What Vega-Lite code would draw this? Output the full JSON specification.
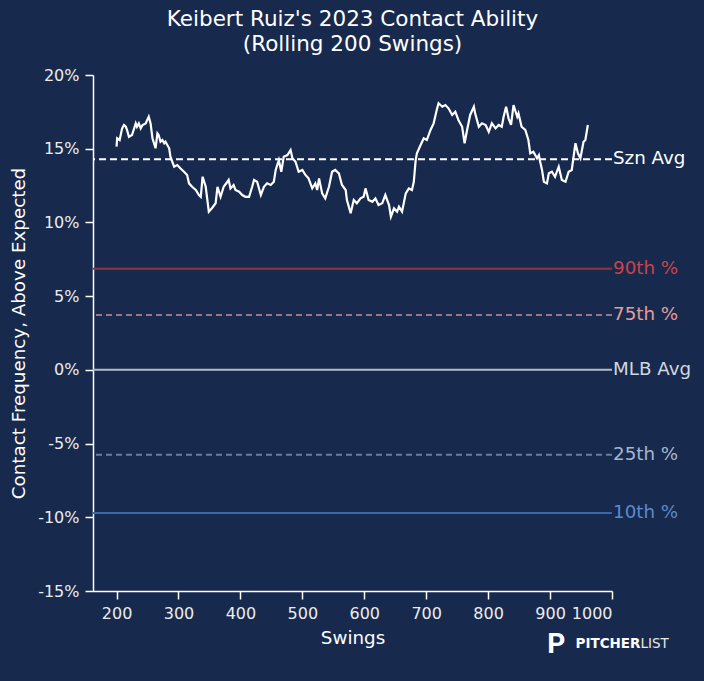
{
  "$schema": "https://vega.github.io/schema/vega-lite/v6.json",
  "width": 519,
  "height": 516,
  "autosize": {"type": "none"},
  "padding": {"left": 93, "top": 75, "right": 92, "bottom": 90},
  "background": "#172a4e",
  "title": {
    "text": ["Keibert Ruiz's 2023 Contact Ability", "(Rolling 200 Swings)"],
    "fontSize": 21.5,
    "fontWeight": "normal",
    "color": "#ffffff",
    "lineHeight": 25,
    "anchor": "middle",
    "offset": 12
  },
  "datasets": {
    "rolling": [
      {"swings": 200, "contact": 15.14}, {"swings": 201, "contact": 15.71}, {"swings": 205, "contact": 15.59},
      {"swings": 209, "contact": 16.38}, {"swings": 212, "contact": 16.61}, {"swings": 215, "contact": 16.49},
      {"swings": 217, "contact": 16.27}, {"swings": 220, "contact": 15.81}, {"swings": 225, "contact": 15.93},
      {"swings": 231, "contact": 16.72}, {"swings": 233, "contact": 16.49}, {"swings": 236, "contact": 16.72},
      {"swings": 239, "contact": 16.38}, {"swings": 242, "contact": 16.61}, {"swings": 247, "contact": 16.72},
      {"swings": 252, "contact": 17.17}, {"swings": 255, "contact": 16.72}, {"swings": 258, "contact": 15.71},
      {"swings": 263, "contact": 15.03}, {"swings": 266, "contact": 16.04}, {"swings": 268, "contact": 15.93},
      {"swings": 271, "contact": 15.47}, {"swings": 274, "contact": 15.59}, {"swings": 277, "contact": 15.37},
      {"swings": 279, "contact": 15.47}, {"swings": 285, "contact": 15.03}, {"swings": 287, "contact": 14.46},
      {"swings": 293, "contact": 13.78}, {"swings": 298, "contact": 13.89}, {"swings": 303, "contact": 13.67},
      {"swings": 309, "contact": 13.44}, {"swings": 314, "contact": 13.22}, {"swings": 317, "contact": 12.65},
      {"swings": 322, "contact": 12.42}, {"swings": 328, "contact": 12.2}, {"swings": 333, "contact": 11.86},
      {"swings": 336, "contact": 11.74}, {"swings": 339, "contact": 13.1}, {"swings": 344, "contact": 12.42},
      {"swings": 349, "contact": 10.73}, {"swings": 354, "contact": 10.96}, {"swings": 360, "contact": 11.3},
      {"swings": 363, "contact": 12.42}, {"swings": 368, "contact": 11.74}, {"swings": 373, "contact": 12.42},
      {"swings": 379, "contact": 12.76}, {"swings": 381, "contact": 12.88}, {"swings": 384, "contact": 12.31},
      {"swings": 389, "contact": 12.54}, {"swings": 392, "contact": 12.2}, {"swings": 398, "contact": 12.08},
      {"swings": 403, "contact": 11.86}, {"swings": 408, "contact": 11.74}, {"swings": 414, "contact": 11.74},
      {"swings": 419, "contact": 12.42}, {"swings": 422, "contact": 12.88}, {"swings": 427, "contact": 12.76},
      {"swings": 433, "contact": 11.86}, {"swings": 438, "contact": 12.42}, {"swings": 443, "contact": 12.65},
      {"swings": 449, "contact": 12.54}, {"swings": 454, "contact": 12.76}, {"swings": 457, "contact": 13.56},
      {"swings": 462, "contact": 14.23}, {"swings": 466, "contact": 13.44}, {"swings": 470, "contact": 14.46},
      {"swings": 476, "contact": 14.57}, {"swings": 481, "contact": 14.91}, {"swings": 484, "contact": 14.35},
      {"swings": 489, "contact": 14.12}, {"swings": 494, "contact": 13.44}, {"swings": 500, "contact": 13.56},
      {"swings": 505, "contact": 13.22}, {"swings": 510, "contact": 12.99}, {"swings": 516, "contact": 12.31},
      {"swings": 521, "contact": 12.65}, {"swings": 524, "contact": 12.2}, {"swings": 527, "contact": 12.99},
      {"swings": 532, "contact": 11.97}, {"swings": 537, "contact": 11.63}, {"swings": 543, "contact": 12.42},
      {"swings": 548, "contact": 13.44}, {"swings": 553, "contact": 13.56}, {"swings": 559, "contact": 13.33},
      {"swings": 564, "contact": 12.54}, {"swings": 570, "contact": 12.2}, {"swings": 572, "contact": 11.52},
      {"swings": 578, "contact": 10.62}, {"swings": 583, "contact": 11.52}, {"swings": 588, "contact": 11.3},
      {"swings": 594, "contact": 11.63}, {"swings": 599, "contact": 11.74}, {"swings": 602, "contact": 12.31},
      {"swings": 607, "contact": 11.52}, {"swings": 613, "contact": 11.4}, {"swings": 618, "contact": 11.63},
      {"swings": 623, "contact": 11.18}, {"swings": 629, "contact": 11.3}, {"swings": 634, "contact": 11.86},
      {"swings": 640, "contact": 11.18}, {"swings": 643, "contact": 10.39}, {"swings": 648, "contact": 10.96},
      {"swings": 653, "contact": 10.73}, {"swings": 656, "contact": 11.07}, {"swings": 661, "contact": 10.73},
      {"swings": 667, "contact": 11.97}, {"swings": 672, "contact": 12.31}, {"swings": 677, "contact": 12.2},
      {"swings": 680, "contact": 12.76}, {"swings": 683, "contact": 14.23}, {"swings": 685, "contact": 14.69},
      {"swings": 691, "contact": 15.25}, {"swings": 696, "contact": 15.71}, {"swings": 701, "contact": 15.59},
      {"swings": 707, "contact": 16.27}, {"swings": 712, "contact": 16.72}, {"swings": 717, "contact": 17.63},
      {"swings": 720, "contact": 18.08}, {"swings": 726, "contact": 17.85}, {"swings": 731, "contact": 17.96},
      {"swings": 736, "contact": 17.74}, {"swings": 742, "contact": 17.29}, {"swings": 747, "contact": 17.51},
      {"swings": 752, "contact": 16.95}, {"swings": 758, "contact": 16.49}, {"swings": 762, "contact": 15.37},
      {"swings": 766, "contact": 16.27}, {"swings": 771, "contact": 17.29}, {"swings": 777, "contact": 17.85},
      {"swings": 779, "contact": 17.4}, {"swings": 785, "contact": 16.49}, {"swings": 790, "contact": 16.72},
      {"swings": 796, "contact": 16.61}, {"swings": 801, "contact": 16.15}, {"swings": 806, "contact": 16.72},
      {"swings": 812, "contact": 16.38}, {"swings": 817, "contact": 16.61}, {"swings": 822, "contact": 16.49},
      {"swings": 825, "contact": 17.17}, {"swings": 829, "contact": 17.85}, {"swings": 833, "contact": 17.06},
      {"swings": 837, "contact": 16.61}, {"swings": 841, "contact": 17.96}, {"swings": 847, "contact": 17.17},
      {"swings": 849, "contact": 17.4}, {"swings": 854, "contact": 16.49}, {"swings": 860, "contact": 16.27},
      {"swings": 865, "contact": 15.59}, {"swings": 868, "contact": 14.69}, {"swings": 873, "contact": 14.8},
      {"swings": 879, "contact": 14.35}, {"swings": 882, "contact": 14.57}, {"swings": 884, "contact": 14.12},
      {"swings": 887, "contact": 13.56}, {"swings": 890, "contact": 12.76}, {"swings": 895, "contact": 12.65},
      {"swings": 898, "contact": 13.33}, {"swings": 903, "contact": 13.44}, {"swings": 908, "contact": 13.1},
      {"swings": 914, "contact": 13.78}, {"swings": 919, "contact": 12.88}, {"swings": 925, "contact": 12.76},
      {"swings": 930, "contact": 13.44}, {"swings": 935, "contact": 13.56}, {"swings": 941, "contact": 15.37},
      {"swings": 945, "contact": 14.69}, {"swings": 949, "contact": 14.35}, {"swings": 954, "contact": 15.47},
      {"swings": 957, "contact": 15.59}, {"swings": 961, "contact": 16.61}
    ],
    "refs": [
      {"label": "Szn Avg", "value": 14.28},
      {"label": "90th %", "value": 6.85},
      {"label": "75th %", "value": 3.72},
      {"label": "MLB Avg", "value": 0},
      {"label": "25th %", "value": -5.76},
      {"label": "10th %", "value": -9.71}
    ]
  },
  "layer": [
    {
      "data": {"name": "refs"},
      "mark": {"type": "rule", "strokeWidth": 2},
      "encoding": {
        "y": {
          "field": "value",
          "type": "quantitative",
          "scale": {"domain": [-15, 20], "nice": false},
          "axis": {
            "values": [-15, -10, -5, 0, 5, 10, 15, 20],
            "labelExpr": "datum.value + '%'",
            "title": "Contact Frequency, Above Expected",
            "titlePadding": 9
          }
        },
        "color": {
          "field": "label",
          "type": "nominal",
          "scale": {
            "domain": ["Szn Avg", "90th %", "75th %", "MLB Avg", "25th %", "10th %"],
            "range": ["#ffffff", "#8e3646", "#9a7488", "#b9bcc4", "#6a7f9e", "#3868aa"]
          },
          "legend": null
        },
        "strokeDash": {
          "field": "label",
          "type": "nominal",
          "scale": {
            "domain": ["Szn Avg", "90th %", "75th %", "MLB Avg", "25th %", "10th %"],
            "range": [[7, 4], [1, 0], [6, 4], [1, 0], [6, 4], [1, 0]]
          },
          "legend": null
        }
      }
    },
    {
      "data": {"name": "refs"},
      "mark": {"type": "text", "align": "left", "baseline": "middle", "fontSize": 18.3, "dx": 1},
      "encoding": {
        "x": {"datum": 1000, "type": "quantitative", "scale": {"domain": [162, 1000], "nice": false}},
        "y": {"field": "value", "type": "quantitative", "scale": {"domain": [-15, 20], "nice": false}},
        "text": {"field": "label"},
        "color": {
          "field": "label",
          "type": "nominal",
          "scale": {
            "domain": ["Szn Avg", "90th %", "75th %", "MLB Avg", "25th %", "10th %"],
            "range": ["#ffffff", "#c9434b", "#e59c9c", "#d3d7de", "#a6b6ce", "#5b8acb"]
          },
          "legend": null
        }
      }
    },
    {
      "data": {"name": "rolling"},
      "mark": {"type": "line", "color": "#ffffff", "strokeWidth": 2.2},
      "encoding": {
        "x": {
          "field": "swings",
          "type": "quantitative",
          "scale": {"domain": [162, 1000], "nice": false},
          "axis": {
            "values": [200, 300, 400, 500, 600, 700, 800, 900, 1000],
            "format": "d",
            "labelOverlap": false,
            "title": "Swings",
            "titlePadding": 8
          }
        },
        "y": {"field": "contact", "type": "quantitative", "scale": {"domain": [-15, 20], "nice": false}}
      }
    },
    {
      "data": {"values": [{}]},
      "mark": {"type": "text", "align": "center", "baseline": "alphabetic", "fontSize": 28, "fontWeight": "bold", "color": "#ffffff", "font": "Roboto"},
      "encoding": {
        "x": {"datum": 910, "type": "quantitative", "scale": {"domain": [162, 1000], "nice": false}},
        "y": {"datum": -19.2, "type": "quantitative", "scale": {"domain": [-15, 20], "nice": false}},
        "text": {"value": "P"}
      }
    },
    {
      "data": {"values": [{}]},
      "mark": {"type": "text", "align": "right", "baseline": "alphabetic", "fontSize": 13.5, "fontWeight": "bold", "color": "#ffffff", "font": "DejaVu Sans"},
      "encoding": {
        "x": {"datum": 1046, "type": "quantitative", "scale": {"domain": [162, 1000], "nice": false}},
        "y": {"datum": -18.9, "type": "quantitative", "scale": {"domain": [-15, 20], "nice": false}},
        "text": {"value": "PITCHER"}
      }
    },
    {
      "data": {"values": [{}]},
      "mark": {"type": "text", "align": "left", "baseline": "alphabetic", "fontSize": 13.5, "fontWeight": "normal", "color": "#e8e8e8", "font": "DejaVu Sans"},
      "encoding": {
        "x": {"datum": 1046, "type": "quantitative", "scale": {"domain": [162, 1000], "nice": false}},
        "y": {"datum": -18.9, "type": "quantitative", "scale": {"domain": [-15, 20], "nice": false}},
        "text": {"value": "LIST"}
      }
    }
  ],
  "resolve": {"scale": {"color": "independent", "strokeDash": "independent"}},
  "config": {
    "font": "DejaVu Sans",
    "view": {"stroke": null},
    "mark": {"clip": false},
    "axis": {
      "grid": false,
      "domainColor": "#ffffff",
      "domainWidth": 1.5,
      "tickColor": "#ffffff",
      "tickWidth": 1.5,
      "tickSize": 8,
      "labelColor": "#ececec",
      "labelFontSize": 16,
      "labelPadding": 6,
      "titleColor": "#ffffff",
      "titleFontSize": 18.3,
      "titleFontWeight": "normal"
    }
  }
}
